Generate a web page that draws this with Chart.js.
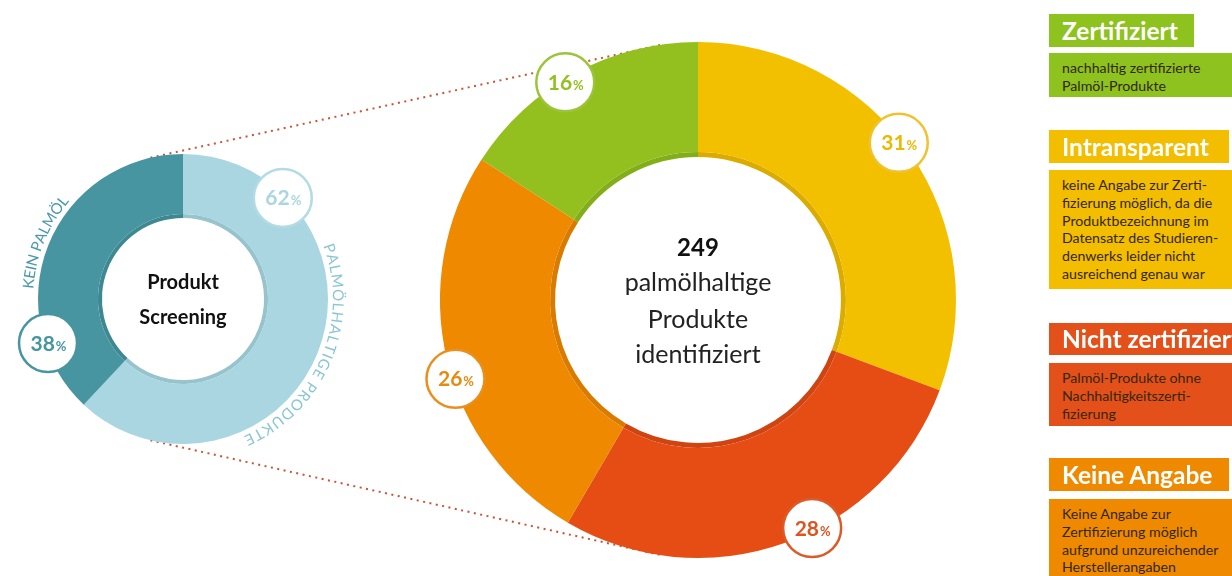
<!DOCTYPE html>
<html>
<head>
<meta charset="utf-8">
<script src="https://cdn.jsdelivr.net/npm/chart.js@4.4.1/dist/chart.umd.min.js"></script>
<style>
    body { margin: 0; width: 1232px; height: 576px; overflow: hidden; background: #fff; font-family: Lato, sans-serif; position: relative; }
    canvas { position: absolute; }
    .titel { position: absolute; left: 1049px; color: #fff; font-weight: bold; font-size: 24.5px; line-height: 33px; padding-left: 13px; box-sizing: border-box; white-space: nowrap; overflow: hidden; }
    .text { position: absolute; left: 1049px; width: 190px; font-size: 14.2px; line-height: 17.8px; padding: 6px 0 0 13px; box-sizing: border-box; color: #33270f; white-space: nowrap; }
</style>
</head>
<body>
<canvas id="linien" width="1232" height="576" style="left:0;top:0"></canvas>
<canvas id="screening" width="380" height="380" style="left:-7px;top:109px"></canvas>
<canvas id="zertifizierung" width="600" height="600" style="left:398px;top:0"></canvas>
<div id="legende"></div>

<script>
// Produkt-Screening (kleiner Ring)
const kategorienKlein = ['Palmölhaltige Produkte', 'Kein Palmöl'];
const werteKlein = [62, 38];
const bogenTexte = ['PALMÖLHALTIGE PRODUKTE', 'KEIN PALMÖL'];
const mitteKlein = ['Produkt', 'Screening'];

// Zertifizierung der palmölhaltigen Produkte (großer Ring)
const kategorienGross = ['Intransparent', 'Nicht zertifiziert', 'Keine Angabe', 'Zertifiziert'];
const werteGross = [31, 28, 26, 16];
const anzahlProdukte = 249;
const mitteGross = ['palmölhaltige', 'Produkte', 'identifiziert'];

// Legende rechts
const legendeTitel = ['Zertifiziert', 'Intransparent', 'Nicht zertifiziert', 'Keine Angabe'];
const legendeTexte = [
    ['nachhaltig zertifizierte', 'Palmöl-Produkte'],
    ['keine Angabe zur Zerti-', 'fizierung möglich, da die', 'Produktbezeichnung im', 'Datensatz des Studieren-', 'denwerks leider nicht', 'ausreichend genau war'],
    ['Palmöl-Produkte ohne', 'Nachhaltigkeitszerti-', 'fizierung'],
    ['Keine Angabe zur', 'Zertifizierung möglich', 'aufgrund unzureichender', 'Herstellerangaben']
];

// Farben
const farbenKlein = ['#a9d6e1', '#4795a0'];
const bandKlein = ['#97c3cc', '#3e8892'];
const farbenGross = ['#f3c000', '#e54d15', '#ef8900', '#93c01f'];
const bandGross = ['#dcab00', '#cf4410', '#d97b00', '#82ae19'];
const farbenLegende = ['#8dc21f', '#f3bd00', '#e4501a', '#ef8a00'];

// Layout der Legende: [top Titel, Höhe Titel, Breite Titel, top Text, Höhe Text]
const legendeBoxen = [
    [14, 33, 145, 53, 44],
    [130, 33, 180, 170, 119],
    [323, 32, 200, 363, 63],
    [458, 33, 180, 499, 90]
];

let legende = document.getElementById('legende');
for (let i = 0; i < legendeTitel.length; i++) {
    let b = legendeBoxen[i];
    let t = document.createElement('div');
    t.className = 'titel';
    t.style.cssText = `top:${b[0]}px;height:${b[1]}px;line-height:${b[1]}px;width:${b[2]}px;background:${farbenLegende[i]}`;
    t.textContent = legendeTitel[i];
    legende.appendChild(t);
    let d = document.createElement('div');
    d.className = 'text';
    d.style.cssText = `top:${b[3]}px;height:${b[4]}px;background:${farbenLegende[i]}`;
    d.innerHTML = legendeTexte[i].join('<br>');
    legende.appendChild(d);
}

// Kreise mit Prozentangaben am Außenrand der Segmente
const plaketten = {
    id: 'plaketten',
    afterDatasetsDraw(chart, args, opts) {
        const ctx = chart.ctx;
        const arcs = chart.getDatasetMeta(0).data;
        arcs.forEach(function (arc, i) {
            let w = arc.startAngle + (arc.endAngle - arc.startAngle) * opts.anteil[i];
            let r = arc.outerRadius - 3;
            let x = arc.x + Math.cos(w) * r;
            let y = arc.y + Math.sin(w) * r;
            ctx.save();
            ctx.beginPath();
            ctx.arc(x, y, 29, 0, Math.PI * 2);
            ctx.fillStyle = '#fff';
            ctx.fill();
            ctx.lineWidth = 2.5;
            ctx.strokeStyle = opts.rand[i];
            ctx.stroke();
            let zahl = String(chart.data.datasets[0].data[i]);
            ctx.font = 'bold 21px Lato';
            let bz = ctx.measureText(zahl).width;
            ctx.font = 'bold 13px Lato';
            let bp = ctx.measureText('%').width;
            let x0 = x - (bz + bp) / 2;
            ctx.fillStyle = opts.schrift[i];
            ctx.textBaseline = 'alphabetic';
            ctx.textAlign = 'left';
            ctx.font = 'bold 21px Lato';
            ctx.fillText(zahl, x0, y + 7.5);
            ctx.font = 'bold 13px Lato';
            ctx.fillText('%', x0 + bz + 1, y + 7.5);
            ctx.restore();
        });
    }
};

// Text in der Mitte des Rings
const mitteText = {
    id: 'mitteText',
    afterDatasetsDraw(chart, args, opts) {
        const ctx = chart.ctx;
        const arc = chart.getDatasetMeta(0).data[0];
        ctx.save();
        ctx.textAlign = 'center';
        ctx.textBaseline = 'middle';
        opts.zeilen.forEach(function (z) {
            ctx.font = z.font;
            ctx.fillStyle = z.farbe;
            ctx.fillText(z.text, arc.x, arc.y + z.dy);
        });
        ctx.restore();
    }
};

// Beschriftung entlang des Rings
const bogenText = {
    id: 'bogenText',
    afterDatasetsDraw(chart, args, opts) {
        if (!opts.texte) return;
        const ctx = chart.ctx;
        const arcs = chart.getDatasetMeta(0).data;
        ctx.save();
        ctx.font = opts.font;
        ctx.textAlign = 'left';
        ctx.textBaseline = 'alphabetic';
        arcs.forEach(function (arc, i) {
            let text = opts.texte[i];
            let a0 = arc.startAngle + (arc.endAngle - arc.startAngle) * opts.von[i];
            let a1 = arc.startAngle + (arc.endAngle - arc.startAngle) * opts.bis[i];
            let r = arc.outerRadius + opts.abstand;
            let breiten = [...text].map(c => ctx.measureText(c).width);
            let summe = breiten.reduce((s, b) => s + b, 0);
            let extra = ((a1 - a0) * r - summe) / (breiten.length - 1);
            let pos = 0;
            ctx.fillStyle = opts.farben[i];
            [...text].forEach(function (c, k) {
                let w = a0 + (pos + breiten[k] / 2) / r;
                ctx.save();
                ctx.translate(arc.x + Math.cos(w) * r, arc.y + Math.sin(w) * r);
                ctx.rotate(w + Math.PI / 2);
                ctx.fillText(c, -breiten[k] / 2, 0);
                ctx.restore();
                pos += breiten[k] + extra;
            });
        });
        ctx.restore();
    }
};

let chartKlein = new Chart(document.getElementById('screening'), {
    type: 'doughnut',
    data: {
        labels: kategorienKlein,
        datasets: [
            { data: werteKlein, backgroundColor: farbenKlein, weight: 60 },
            { data: werteKlein, backgroundColor: bandKlein, weight: 4 }
        ]
    },
    options: {
        responsive: false,
        animation: false,
        radius: 145,
        cutout: '55.9%',
        borderWidth: 0,
        hoverOffset: 0,
        events: [],
        plugins: {
            legend: { display: false },
            tooltip: { enabled: false },
            plaketten: { anteil: [0.2, 0.21], rand: ['#b3dbe5', '#4795a0'], schrift: ['#a9d6e1', '#4795a0'] },
            bogenText: {
                texte: bogenTexte, von: [0.31, 0.37], bis: [0.7, 0.64], abstand: 5,
                font: '15px Lato', farben: ['#8ac6d2', '#4b99a5']
            },
            mitteText: {
                zeilen: [
                    { text: mitteKlein[0], dy: -16, font: 'bold 20px Lato', farbe: '#111' },
                    { text: mitteKlein[1], dy: 19, font: 'bold 20px Lato', farbe: '#111' }
                ]
            }
        }
    },
    plugins: [plaketten, bogenText, mitteText]
});

let chartGross = new Chart(document.getElementById('zertifizierung'), {
    type: 'doughnut',
    data: {
        labels: kategorienGross,
        datasets: [
            { data: werteGross, backgroundColor: farbenGross, weight: 110 },
            { data: werteGross, backgroundColor: bandGross, weight: 5 }
        ]
    },
    options: {
        responsive: false,
        animation: false,
        radius: 258,
        cutout: '55.4%',
        borderWidth: 0,
        hoverOffset: 0,
        events: [],
        plugins: {
            legend: { display: false },
            tooltip: { enabled: false },
            plaketten: {
                anteil: [0.47, 0.43, 0.45, 0.45],
                rand: ['#f0c230', '#dc5a28', '#ea8f1c', '#9cc43a'],
                schrift: ['#edb800', '#dc5520', '#e88a10', '#93c01f']
            },
            mitteText: {
                zeilen: [
                    { text: String(anzahlProdukte), dy: -52, font: 'bold 24px Lato', farbe: '#111' },
                    { text: mitteGross[0], dy: -17, font: '25px Lato', farbe: '#222' },
                    { text: mitteGross[1], dy: 20, font: '25px Lato', farbe: '#222' },
                    { text: mitteGross[2], dy: 55, font: '25px Lato', farbe: '#222' }
                ]
            }
        }
    },
    plugins: [plaketten, mitteText]
});

// gepunktete Verbindungslinien vom kleinen zum großen Ring
function zeichneLinien() {
    const ctx = document.getElementById('linien').getContext('2d');
    const k = chartKlein.getDatasetMeta(0).data[0];
    const g = chartGross.getDatasetMeta(0).data[0];
    const kx = k.x - 7, ky = k.y + 109;
    const gx = g.x + 398, gy = g.y;
    const wk = 13 * Math.PI / 180, wg = 7.7 * Math.PI / 180;
    ctx.strokeStyle = '#c4553a';
    ctx.lineWidth = 2;
    ctx.setLineDash([2, 4.5]);
    [-1, 1].forEach(function (s) {
        ctx.beginPath();
        ctx.moveTo(kx - Math.sin(wk) * k.outerRadius, ky + s * Math.cos(wk) * k.outerRadius);
        ctx.lineTo(gx - Math.sin(wg) * g.outerRadius, gy + s * Math.cos(wg) * g.outerRadius);
        ctx.stroke();
    });
}
zeichneLinien();
</script>
</body>
</html>
